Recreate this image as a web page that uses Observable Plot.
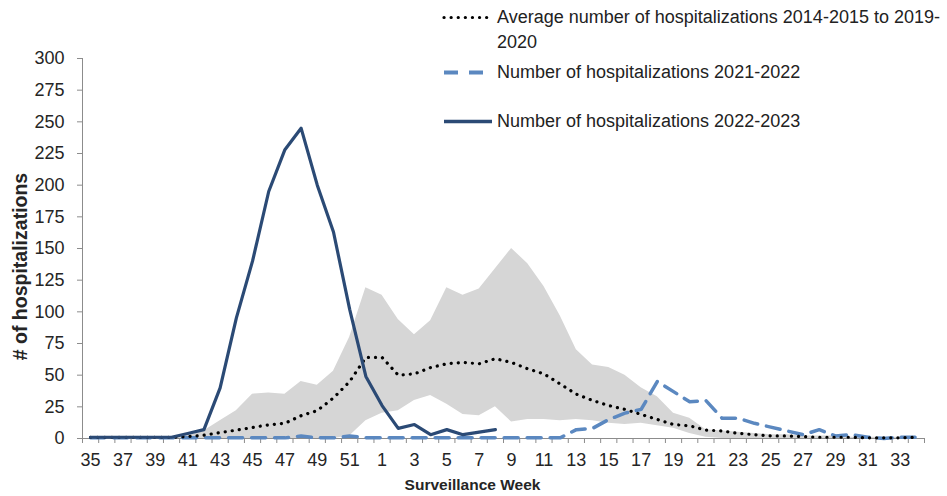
<!DOCTYPE html>
<html>
<head>
<meta charset="utf-8">
<script src="https://cdn.jsdelivr.net/npm/d3@7"></script>
<script src="https://cdn.jsdelivr.net/npm/@observablehq/plot@0.6"></script>
<style>
  html, body { margin: 0; padding: 0; background: #fff; overflow: hidden; }
  #wrap { position: relative; width: 947px; height: 496px; font-family: "Liberation Sans", Arial, sans-serif; }
  #legend { position: absolute; left: 0; top: 0; width: 947px; height: 140px; pointer-events: none; }
  .lg-item { position: absolute; left: 440px; display: flex; align-items: flex-start; color: #222; font-size: 18px; line-height: 25px; }
  .lg-item svg { flex: none; }
  .lg-item span { white-space: nowrap; }
</style>
</head>
<body>
<div id="wrap"></div>
<script>
// Surveillance weeks (categories)
const weeks = [35,36,37,38,39,40,41,42,43,44,45,46,47,48,49,50,51,52,
  1,2,3,4,5,6,7,8,9,10,11,12,13,14,15,16,17,18,19,20,21,22,23,24,25,26,27,28,29,30,31,32,33,34];

// Average number of hospitalizations 2014-2015 to 2019-2020
const avgValues = [1,1,1,1,1,1,1.5,2.6,4.7,6.6,8.7,10.8,12,18,22,32,45,64,
  64,50,51,56,59,60,59,63,60,55,51,43,35,30,26,23,19,15,11,10,6.6,6,4,3,2,2,1.5,1,1,1,0.5,0.5,0.5,1];

// Range (min / max) of previous seasons, grey band
const bandLow = [0,0,0,0,0,0,0,0,0,0,0,0,0,0,0,0,2,14,
  20,22,30,34,27,19,18,25,13,15,15,14,15,14,12,11,12,10,8,4,1,0,0,0,0,0,0,0,0,0,0,0,0,0];
const bandHigh = [1,1,1,1,1,1,2,6,14,22,35,36,35,45,42,53,80,119,
  113,94,82,93,119,113,118,134,150,138,120,97,70,58,56,50,40,33,20,16,7,6,5,4,3,3,2,2,2,1,1,1,1,1];

// Number of hospitalizations 2021-2022
const season2122 = [0.5,0.5,0.5,0.5,0.5,0.5,0.5,0.5,0.5,0.5,0.5,0.5,0.5,2,0.5,0.5,2,0.5,
  0.5,0.5,0.5,0.5,0.5,0.5,0.5,0.5,0.5,0.5,0.5,0.5,7,8,15,20,23,45,37,29,30,16,16,12,9,6,3,7,2,3,1,0,1,1];

// Number of hospitalizations 2022-2023 (through week 8)
const season2223 = [1,1,1,1,1,1,4,7,40,95,140,195,228,245,200,163,102,49,
  26,8,11,3,7,3,5,7];

const yTicks = [0,25,50,75,100,125,150,175,200,225,250,275,300];

const data = weeks.map((w, i) => ({
  i, week: w,
  avg: avgValues[i], lo: bandLow[i], hi: bandHigh[i],
  prev: season2122[i], cur: i < season2223.length ? season2223[i] : null
}));

const axisColor = "#8c8c8c";
const textColor = "#252525";

const chart = Plot.plot({
  width: 947,
  height: 496,
  marginLeft: 82,
  marginRight: 23,
  marginTop: 58,
  marginBottom: 58,
  style: { fontFamily: "'Liberation Sans', Arial, sans-serif", fontSize: "18px", color: textColor, background: "#fff" },
  x: { domain: [-0.5, weeks.length - 0.5], label: null },
  y: { domain: [0, 300], label: null },
  marks: [
    Plot.areaY(data, { x: "i", y1: "lo", y2: "hi", fill: "#d6d6d6", curve: "linear" }),
    Plot.axisY(yTicks, { tickSize: 5, tickPadding: 13, stroke: axisColor, fill: textColor, label: null }),
    Plot.axisX(d3.range(-0.5, weeks.length, 1), { tickSize: 5, tickFormat: () => "", stroke: axisColor, label: null }),
    Plot.axisX(d3.range(0, weeks.length, 2), { tickSize: 0, tickPadding: 15, tickFormat: (i) => String(weeks[i]), fill: textColor, label: null }),
    Plot.ruleY([0], { stroke: axisColor }),
    Plot.ruleX([-0.5], { stroke: axisColor }),
    Plot.lineY(data, { x: "i", y: "prev", stroke: "#5b88c0", strokeWidth: 3.5, strokeDasharray: "14,9" }),
    Plot.lineY(data, { x: "i", y: "avg", stroke: "#000", strokeWidth: 3.2, strokeDasharray: "0.1,7", strokeLinecap: "round" }),
    Plot.lineY(data, { x: "i", y: "cur", stroke: "#2b4a75", strokeWidth: 3.2 }),
    Plot.text(["# of hospitalizations"], { frameAnchor: "left", dx: -62, dy: 18, rotate: -90, textAnchor: "middle", fontWeight: "bold", fontSize: 19.5, fill: textColor }),
    Plot.text(["Surveillance Week"], { frameAnchor: "bottom", dx: -31, dy: 47, lineAnchor: "middle", textAnchor: "middle", fontWeight: "bold", fontSize: 15.5, fill: textColor })
  ]
});

const wrap = document.getElementById("wrap");
wrap.appendChild(chart);

// Legend (top right, overlaying the chart area)
const legendItems = [
  { top: 4.5, label: "Average number of hospitalizations 2014-2015 to 2019-<br>2020", w: 44, stroke: "#000", dash: "0.1,7", sw: 3.2, cap: "round" },
  { top: 59.5, label: "Number of hospitalizations 2021-2022", w: 42, stroke: "#5b88c0", dash: "14,11", sw: 4, cap: "butt" },
  { top: 108.5, label: "Number of hospitalizations 2022-2023", w: 48, stroke: "#2b4a75", dash: null, sw: 3.3, cap: "butt" }
];
const legend = document.createElement("div");
legend.id = "legend";
const ns = "http://www.w3.org/2000/svg";
for (const it of legendItems) {
  const row = document.createElement("div");
  row.className = "lg-item";
  row.style.top = it.top + "px";
  const svg = document.createElementNS(ns, "svg");
  svg.setAttribute("width", 56);
  svg.setAttribute("height", 25);
  const line = document.createElementNS(ns, "line");
  line.setAttribute("x1", 4); line.setAttribute("x2", 4 + it.w);
  line.setAttribute("y1", 12.5); line.setAttribute("y2", 12.5);
  line.setAttribute("stroke", it.stroke);
  line.setAttribute("stroke-width", it.sw);
  line.setAttribute("stroke-linecap", it.cap);
  if (it.dash) line.setAttribute("stroke-dasharray", it.dash);
  svg.appendChild(line);
  row.appendChild(svg);
  const span = document.createElement("span");
  span.style.marginLeft = "1px";
  span.innerHTML = it.label;
  row.appendChild(span);
  legend.appendChild(row);
}
wrap.appendChild(legend);
</script>
</body>
</html>
